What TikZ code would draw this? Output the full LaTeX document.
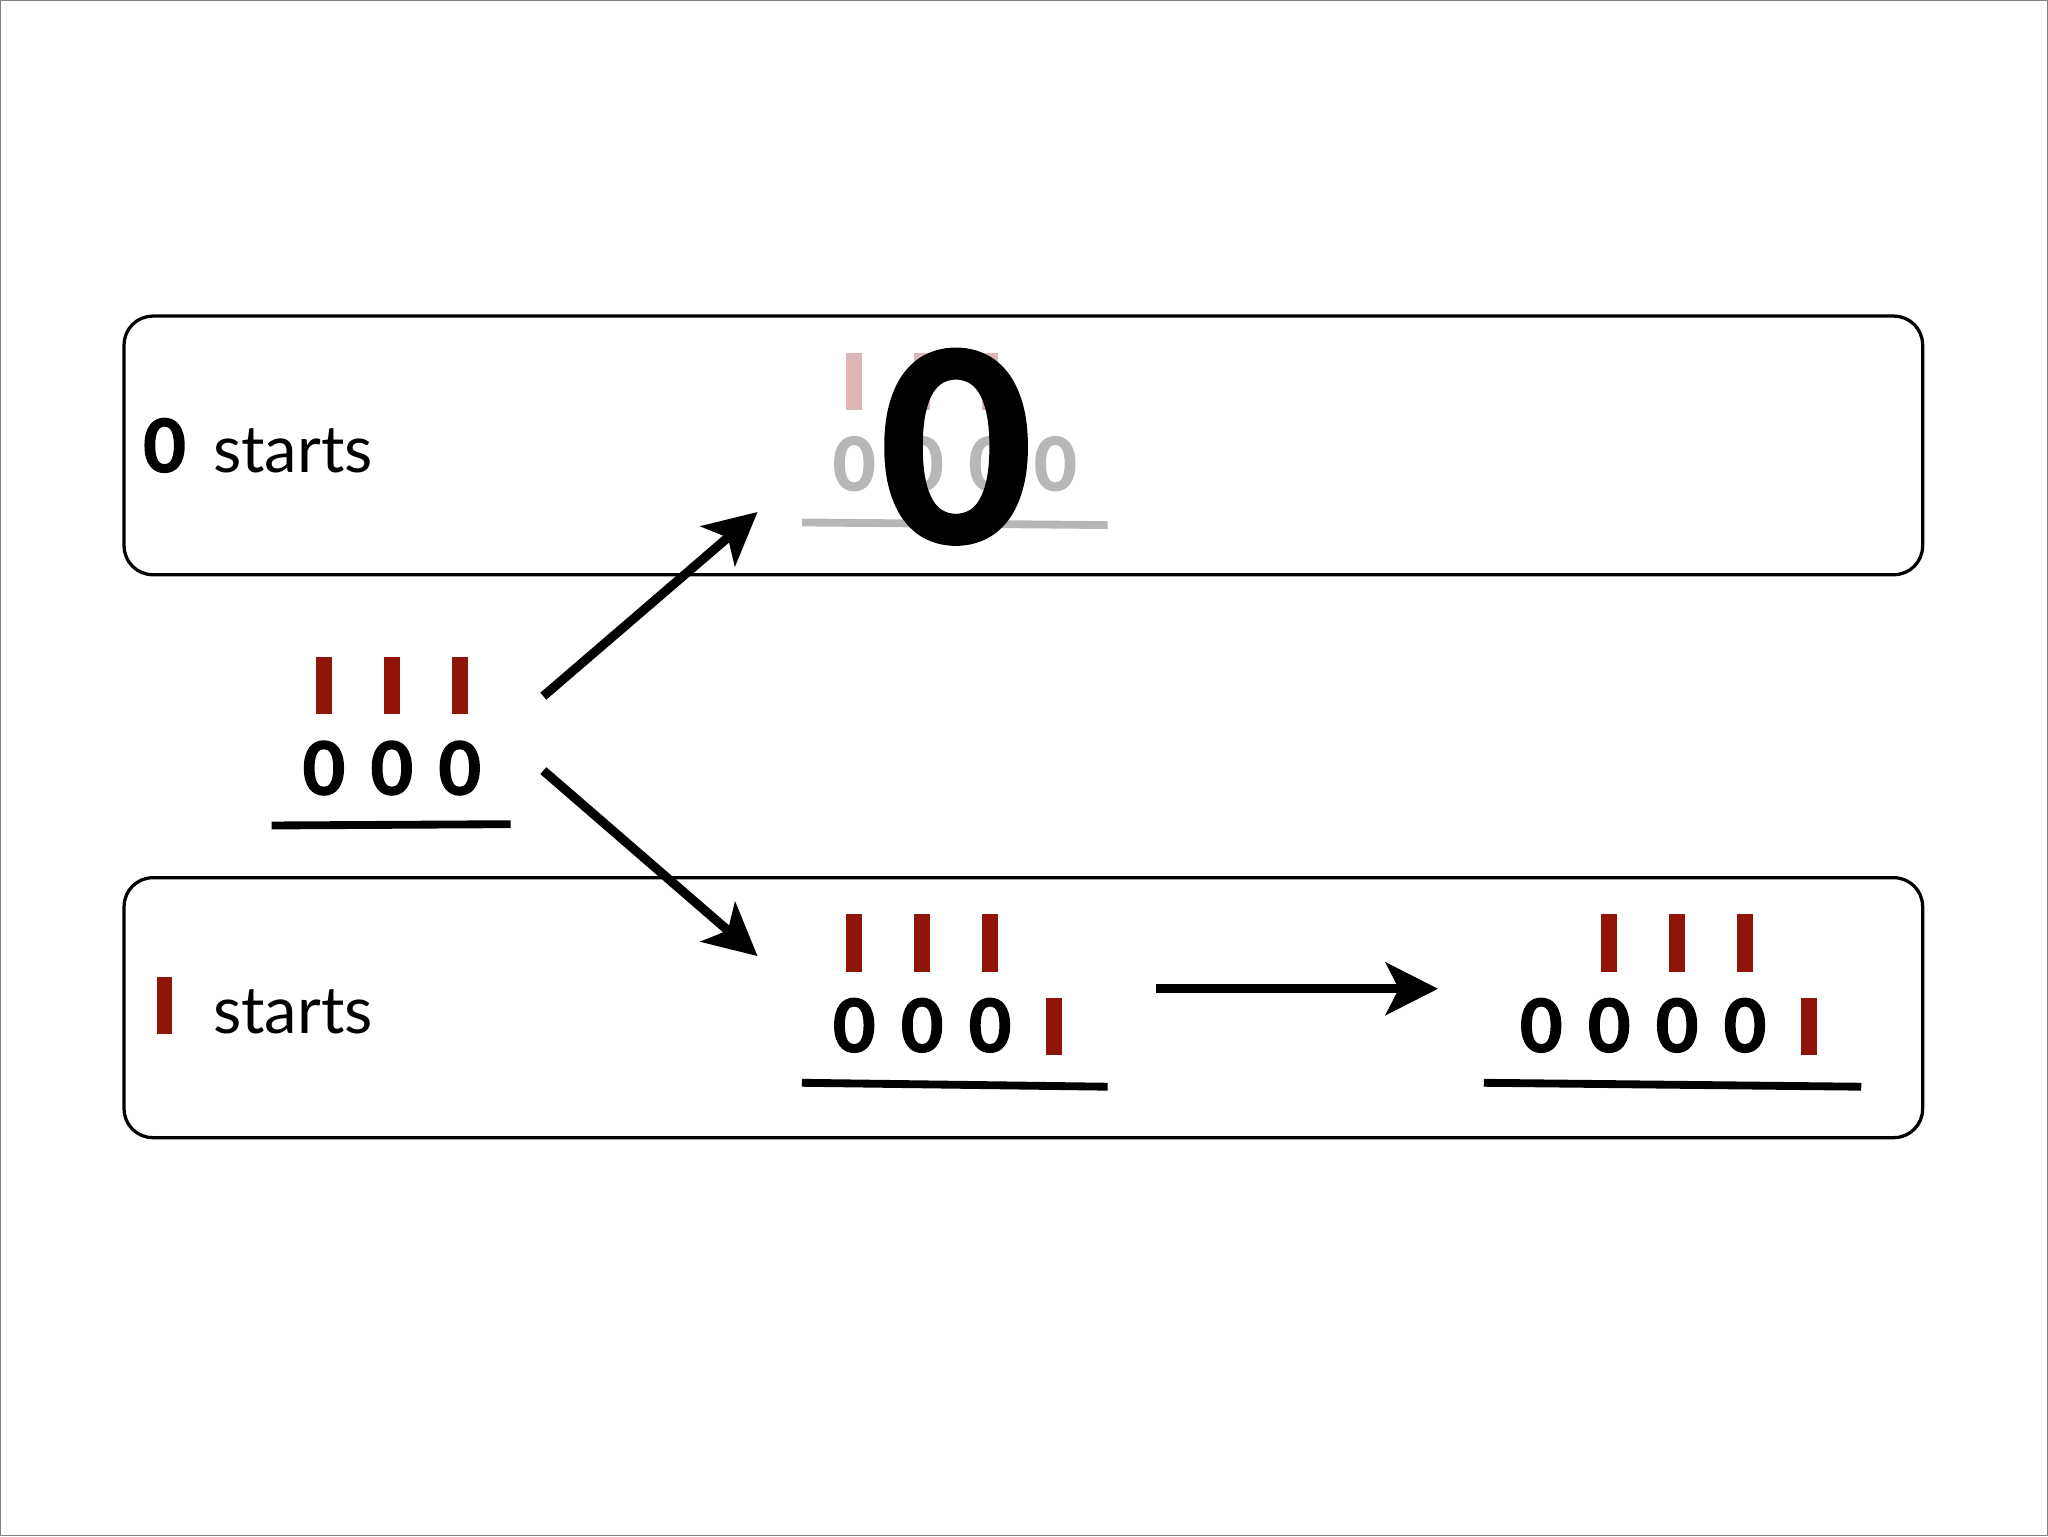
\documentclass[tikz,border=0pt]{standalone}
\usepackage{fontspec}
\setmainfont{Lato}
\newfontfamily\zf[BoldFeatures={FakeBold=2}]{Lato}
\usetikzlibrary{arrows.meta}
\definecolor{bar}{RGB}{145,20,8}
\definecolor{pinkbar}{RGB}{221,181,181}
\definecolor{gz}{RGB}{183,183,183}
\tikzset{
 box/.style={draw,line width=2.5pt,rounded corners=22pt},
 rb/.style={fill=bar,minimum width=12pt,minimum height=44pt,inner sep=0pt},
 pb/.style={fill=pinkbar,minimum width=12pt,minimum height=44pt,inner sep=0pt},
 zero/.style={font=\zf\fontsize{56}{56}\selectfont\bfseries,inner sep=0pt},
 lab/.style={font=\fontsize{50}{50}\selectfont,anchor=west,inner sep=0pt},
 ul/.style={line width=6pt},
 arr/.style={line width=7pt,-{Stealth[length=40pt,width=40pt,inset=10pt]}}
}
\begin{document}
\begin{tikzpicture}[x=1pt,y=-1pt]
\useasboundingbox (0,0) rectangle (1568,1176);
\draw[gray,line width=1pt] (0.5,0.5) rectangle (1567.5,1175.5);
\draw[box] (95,242) rectangle (1472,440);
\draw[box] (95,672) rectangle (1472,871);
% labels
\node[zero] (l0) at (126,341) {0};
\node[lab] (l1) at (163,345) {starts};
\node[rb] (lb) at (126,770) {};
\node[lab] (l2) at (163,775) {starts};
% left group
\foreach \x [count=\i] in {248,300,352}{
 \node[rb] (a\i) at (\x,525) {};
 \node[zero] (az\i) at (\x,588) {0};
}
\coordinate (au1) at (208,632); \coordinate (au2) at (391,631);
\draw[ul] (au1) -- (au2);
% top
\foreach \x [count=\i] in {654,706,758}{
 \node[pb] (t\i) at (\x,292) {};
}
\foreach \x [count=\i] in {654,706,758,808}{
 \node[zero,text=gz] (tz\i) at (\x,355) {0};
}
\coordinate (tu1) at (614,400); \coordinate (tu2) at (848,402);
\draw[ul,gz] (tu1) -- (tu2);
\node[font=\zf\fontsize{200}{200}\selectfont\bfseries,inner sep=0pt] (big) at (732,342) {0};
% bottom middle
\foreach \x [count=\i] in {654,706,758}{
 \node[rb] (m\i) at (\x,722) {};
 \node[zero] (mz\i) at (\x,785) {0};
}
\node[rb] (m4) at (807,786) {};
\coordinate (mu1) at (614,829); \coordinate (mu2) at (848,832);
\draw[ul] (mu1) -- (mu2);
% bottom right
\foreach \x [count=\i] in {1232,1284,1336}{
 \node[rb] (r\i) at (\x,722) {};
}
\foreach \x [count=\i] in {1180,1232,1284,1336}{
 \node[zero] (rz\i) at (\x,785) {0};
}
\node[rb] (r4) at (1385,786) {};
\coordinate (ru1) at (1136,829); \coordinate (ru2) at (1425,832);
\draw[ul] (ru1) -- (ru2);
% arrows
\coordinate (s1) at (416,533); \coordinate (e1) at (580,392);
\coordinate (s2) at (416,590); \coordinate (e2) at (580,732);
\coordinate (s3) at (885,757); \coordinate (e3) at (1101,757);
\draw[arr] (s1) -- (e1);
\draw[arr] (s2) -- (e2);
\draw[arr] (s3) -- (e3);
\end{tikzpicture}
\end{document}
